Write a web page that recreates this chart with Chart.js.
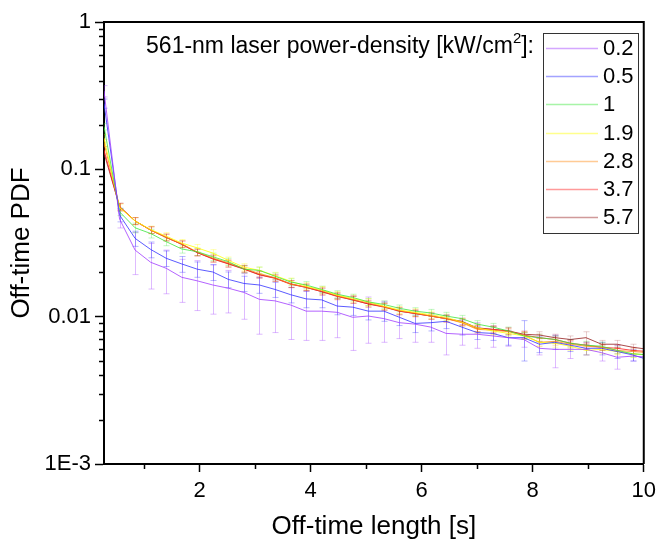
<!DOCTYPE html>
<html><head><meta charset="utf-8">
<script src="https://cdn.jsdelivr.net/npm/chart.js@4/dist/chart.umd.min.js"></script>
<style>html,body{margin:0;padding:0;background:#fff}#wrap{width:662px;height:539px;position:relative}</style>
</head><body><div id="wrap"><canvas id="c" width="662" height="539"></canvas></div>
<script>
// ---------- DATA ----------
const offTime = [0.28,0.56,0.84,1.12,1.40,1.68,1.96,2.24,2.52,2.80,3.08,3.36,3.64,3.92,4.20,4.48,4.76,5.04,5.32,5.60,5.88,6.16,6.44,6.72,7.00,7.28,7.56,7.84,8.12,8.40,8.68,8.96,9.24,9.52,9.80,10.08];
const seriesLabels = ['0.2','0.5','1','1.9','2.8','3.7','5.7'];

const pdf02 = [0.34,0.046,0.0283,0.0234,0.0213,0.0185,0.0175,0.0164,0.0156,0.0146,0.0131,0.0128,0.0120,0.0109,0.0109,0.0107,0.0099,0.0101,0.0097,0.0091,0.0089,0.0085,0.0077,0.0076,0.0076,0.0074,0.0072,0.0070,0.0061,0.0060,0.0060,0.0060,0.0057,0.0053,0.0054,0.0053];
const pdf05 = [0.28,0.049,0.034,0.0286,0.0249,0.0228,0.0210,0.0201,0.0179,0.0168,0.0164,0.0153,0.0141,0.0132,0.0130,0.0118,0.0116,0.0109,0.0109,0.0099,0.0090,0.0091,0.0093,0.0085,0.0078,0.0077,0.0072,0.0072,0.0065,0.0067,0.0064,0.0061,0.0061,0.0058,0.0055,0.0051];
const pdf1  = [0.195,0.0515,0.0401,0.0367,0.0323,0.0288,0.0276,0.0255,0.0236,0.0210,0.0206,0.0188,0.0172,0.0164,0.0153,0.0142,0.0135,0.0126,0.0121,0.0114,0.0109,0.0106,0.0101,0.0097,0.0089,0.0085,0.0080,0.0074,0.0072,0.0070,0.0066,0.0064,0.0063,0.0059,0.0056,0.0055];
const pdf19 = [0.163,0.055,0.0446,0.0390,0.0352,0.0316,0.0293,0.0270,0.0241,0.0217,0.0206,0.0190,0.0174,0.0161,0.0152,0.0140,0.0133,0.0126,0.0118,0.0111,0.0107,0.0103,0.0099,0.0092,0.0084,0.0080,0.0077,0.0074,0.0067,0.0066,0.0063,0.0059,0.0060,0.0058,0.0056,0.0055];
const pdf28 = [0.151,0.0557,0.0446,0.0387,0.0345,0.0312,0.0275,0.0250,0.0232,0.0213,0.0196,0.0184,0.0167,0.0159,0.0150,0.0139,0.0131,0.0124,0.0117,0.0110,0.0106,0.0101,0.0097,0.0091,0.0082,0.0081,0.0079,0.0075,0.0067,0.0068,0.0065,0.0063,0.0062,0.0059,0.0058,0.0057];
const pdf37 = [0.135,0.0557,0.0446,0.0387,0.0345,0.0310,0.0272,0.0246,0.0228,0.0210,0.0192,0.0182,0.0166,0.0158,0.0148,0.0137,0.0130,0.0122,0.0116,0.0109,0.0105,0.0101,0.0097,0.0092,0.0083,0.0082,0.0080,0.0075,0.0072,0.0070,0.0066,0.0064,0.0062,0.0061,0.0059,0.0058];
const pdf57 = [0.129,0.0560,0.0446,0.0387,0.0345,0.0310,0.0272,0.0248,0.0229,0.0211,0.0193,0.0183,0.0167,0.0158,0.0148,0.0138,0.0130,0.0122,0.0117,0.0109,0.0105,0.0101,0.0097,0.0093,0.0084,0.0082,0.0080,0.0076,0.0075,0.0072,0.0070,0.0072,0.0065,0.0065,0.0062,0.0060];

const err02 = [0.03,0.006,0.009,0.008,0.007,0.006,0.0065,0.006,0.005,0.005,0.0055,0.005,0.005,0.004,0.004,0.0035,0.004,0.0035,0.003,0.002,0.0022,0.0018,0.0022,0.0012,0.0015,0.0012,0.0009,0.0008,0.0006,0.0015,0.0008,0.0005,0.0007,0.0009,0.0004,0.0004];
const err05 = [0.02,0.005,0.004,0.0035,0.003,0.0028,0.0025,0.0025,0.0022,0.002,0.002,0.0018,0.0017,0.0017,0.0015,0.0015,0.0014,0.0014,0.0016,0.0012,0.0012,0.0011,0.001,0.001,0.0008,0.0008,0.0008,0.0022,0.0008,0.0007,0.0006,0.0006,0.0006,0.0006,0.0005,0.0005];
const err1  = [0.01,0.003,0.003,0.0025,0.002,0.0018,0.0016,0.0015,0.0013,0.0012,0.0011,0.001,0.0009,0.0009,0.0008,0.0008,0.0007,0.0007,0.0007,0.0006,0.0006,0.0006,0.0006,0.0005,0.0005,0.0005,0.0005,0.0004,0.0004,0.0004,0.0004,0.0004,0.0004,0.0003,0.0003,0.0003];
const err19 = [0.01,0.003,0.0025,0.0022,0.002,0.0018,0.0016,0.0015,0.0013,0.0012,0.0011,0.001,0.0009,0.0009,0.0008,0.0008,0.0007,0.0007,0.0006,0.0006,0.0006,0.0006,0.0005,0.0005,0.0005,0.0005,0.0004,0.0004,0.0004,0.0004,0.0004,0.0004,0.0004,0.0003,0.0003,0.0003];
const err28 = [0.008,0.003,0.0025,0.0022,0.0019,0.0017,0.0015,0.0014,0.0012,0.0011,0.001,0.001,0.0009,0.0008,0.0008,0.0007,0.0007,0.0006,0.0006,0.0006,0.0006,0.0005,0.0005,0.0005,0.0005,0.0005,0.0004,0.0004,0.0004,0.0004,0.0004,0.0003,0.0003,0.0003,0.0003,0.0003];
const err37 = [0.008,0.003,0.0024,0.002,0.0018,0.0016,0.0014,0.0013,0.0012,0.0011,0.001,0.0009,0.0009,0.0008,0.0008,0.0007,0.0007,0.0006,0.0006,0.0006,0.0005,0.0005,0.0005,0.0005,0.0004,0.0004,0.0004,0.0004,0.0004,0.0004,0.0003,0.0003,0.0003,0.0003,0.0003,0.0003];
const err57 = [0.008,0.003,0.0024,0.002,0.0018,0.0016,0.0014,0.0013,0.0012,0.0011,0.001,0.0009,0.0009,0.0008,0.0008,0.0007,0.0007,0.0006,0.0006,0.0006,0.0005,0.0005,0.0005,0.0005,0.0005,0.0005,0.0004,0.0004,0.0004,0.0004,0.0004,0.0007,0.0004,0.0004,0.0003,0.0003];

const xTickValues = [2,4,6,8,10];
const xMinorTickValues = [1,3,5,7,9];
const yTickValues = [0.001,0.01,0.1,1];
const yTickLabels = ['1E-3','0.01','0.1','1'];
const yMinorMultipliers = [2,3,4,5,6,7,8,9];
const xTitle = 'Off-time length [s]';
const yTitle = 'Off-time PDF';
const legendTitleMain = '561-nm laser power-density [kW/cm';
const legendTitleSup = '2';
const legendTitleEnd = ']:';

// ---------- STYLE ----------
const FONT = '"Liberation Sans", Arial, sans-serif';
const baseRGB = [[160,60,255],[50,50,255],[60,230,60],[255,255,0],[255,140,20],[255,30,30],[150,30,30]];
const errAlpha = [0.35,0.35,0.3,0.3,0.28,0.22,0.22];
const rgba = (c,a) => `rgba(${c[0]},${c[1]},${c[2]},${a})`;
const allPdf = [pdf02,pdf05,pdf1,pdf19,pdf28,pdf37,pdf57];
const allErr = [err02,err05,err1,err19,err28,err37,err57];

const datasets = allPdf.map((arr,i)=>({
  label: seriesLabels[i],
  data: offTime.map((x,j)=>({x:x, y:arr[j]})),
  borderColor: rgba(baseRGB[i], 0.8),
  borderWidth: 1,
  pointRadius: 0,
  tension: 0,
  fill: false
}));

const errorBarPlugin = {
  id: 'errorBars',
  beforeDatasetsDraw(chart){
    const {ctx, chartArea:a, scales:{x, y}} = chart;
    ctx.save();
    ctx.beginPath(); ctx.rect(a.left, a.top, a.right-a.left, a.bottom-a.top); ctx.clip();
    ctx.lineWidth = 1;
    allPdf.forEach((arr,i)=>{
      ctx.strokeStyle = rgba(baseRGB[i], errAlpha[i]);
      arr.forEach((v,j)=>{
        const e = allErr[i][j];
        const px = Math.round(x.getPixelForValue(offTime[j]))+0.5;
        const pt = y.getPixelForValue(v+e);
        const pb = y.getPixelForValue(Math.max(v-e, 1e-5));
        ctx.beginPath();
        ctx.moveTo(px, pt); ctx.lineTo(px, pb);
        ctx.moveTo(px-3, pt); ctx.lineTo(px+3, pt);
        ctx.moveTo(px-3, pb); ctx.lineTo(px+3, pb);
        ctx.stroke();
      });
    });
    ctx.restore();
  }
};

const framePlugin = {
  id: 'frame',
  afterDraw(chart){
    const {ctx, chartArea:a, scales:{x, y}} = chart;
    ctx.save();
    ctx.strokeStyle = '#000';
    ctx.lineWidth = 1.5;
    ctx.beginPath();
    yTickValues.slice(0,3).forEach(d=>{
      yMinorMultipliers.forEach(m=>{
        const py = Math.round(y.getPixelForValue(d*m))+0.5;
        ctx.moveTo(a.left-5, py); ctx.lineTo(a.left, py);
      });
    });
    xMinorTickValues.forEach(v=>{
      const px = Math.round(x.getPixelForValue(v))+0.5;
      ctx.moveTo(px, a.bottom); ctx.lineTo(px, a.bottom+5);
    });
    ctx.stroke();
    ctx.lineWidth = 2;
    ctx.beginPath();
    ctx.moveTo(a.left, a.top); ctx.lineTo(a.right, a.top); ctx.lineTo(a.right, a.bottom);
    ctx.stroke();

    // legend box
    const bx = a.left + 439, by = a.top + 11, bw = 95, bh = 200;
    ctx.lineWidth = 1;
    ctx.strokeStyle = '#333';
    ctx.strokeRect(bx+0.5, by+0.5, bw, bh);
    ctx.textBaseline = 'middle';
    ctx.textAlign = 'left';
    ctx.font = '22px ' + FONT;
    seriesLabels.forEach((lab,i)=>{
      const ly = by + 15 + i*28.2;
      ctx.strokeStyle = rgba(baseRGB[i], 0.45);
      ctx.lineWidth = 1.5;
      ctx.beginPath(); ctx.moveTo(bx+3, Math.round(ly)+0.5); ctx.lineTo(bx+55, Math.round(ly)+0.5); ctx.stroke();
      ctx.fillStyle = '#000';
      ctx.fillText(lab, bx+60, ly+1);
    });
    // legend title
    const rx = bx - 9, ty = by + 14;
    ctx.font = '23px ' + FONT;
    const wEnd = ctx.measureText(legendTitleEnd).width;
    ctx.font = '15px ' + FONT;
    const wSup = ctx.measureText(legendTitleSup).width;
    ctx.fillStyle = '#000';
    ctx.textAlign = 'left';
    ctx.font = '23px ' + FONT;
    ctx.fillText(legendTitleEnd, rx - wEnd, ty);
    ctx.font = '15px ' + FONT;
    ctx.fillText(legendTitleSup, rx - wEnd - wSup, ty - 8);
    ctx.font = '23px ' + FONT;
    ctx.textAlign = 'right';
    ctx.fillText(legendTitleMain, rx - wEnd - wSup, ty);
    ctx.restore();
  }
};

new Chart(document.getElementById('c'), {
  type: 'line',
  data: { datasets },
  options: {
    responsive: false,
    animation: false,
    devicePixelRatio: 1,
    layout: { padding: { top: 22, right: 14, left: 0, bottom: 0 } },
    plugins: { legend: { display: false }, tooltip: { enabled: false } },
    scales: {
      x: {
        type: 'linear', min: 0.28, max: 10,
        afterBuildTicks: s => { s.ticks = xTickValues.map(v=>({value:v})); },
        afterFit: s => { s.height = 75; },
        ticks: { font: { size: 22, family: FONT }, color: '#000', padding: 6, maxRotation: 0, autoSkip: false, callback: v => String(v) },
        grid: { drawOnChartArea: false, drawTicks: true, tickLength: 8, tickWidth: 1.5, tickColor: '#000' },
        border: { display: true, color: '#000', width: 2 },
        title: { display: true, text: xTitle, color: '#000', font: { size: 26, family: FONT }, padding: { top: 0, bottom: -3 } }
      },
      y: {
        type: 'logarithmic', min: 0.001, max: 1,
        afterBuildTicks: s => { s.ticks = yTickValues.map(v=>({value:v})); },
        afterFit: s => { s.width = 104; },
        ticks: { font: { size: 22, family: FONT }, color: '#000', padding: 4, autoSkip: false, callback: (v,i) => yTickLabels[i] },
        grid: { drawOnChartArea: false, drawTicks: true, tickLength: 9, tickWidth: 1.5, tickColor: '#000' },
        border: { display: true, color: '#000', width: 2 },
        title: { display: true, text: yTitle, color: '#000', font: { size: 26, family: FONT }, padding: { top: 6, bottom: 0 } }
      }
    }
  },
  plugins: [errorBarPlugin, framePlugin]
});
</script>
</body></html>
